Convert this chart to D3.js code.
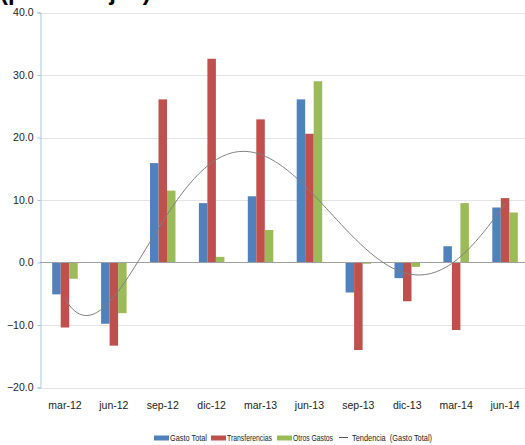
<!DOCTYPE html>
<html>
<head>
<meta charset="utf-8">
<script src="https://cdn.jsdelivr.net/npm/d3@7"></script>
<style>
  html, body { margin: 0; padding: 0; background: #fff; }
  svg { display: block; }
  .lbl { font-family: "Liberation Sans Narrow", "Liberation Sans", sans-serif; fill: #222; }
</style>
</head>
<body>
<svg id="chart" width="525" height="445"></svg>
<script>
// Quarterly variation by component
const categories = ["mar-12", "jun-12", "sep-12", "dic-12", "mar-13", "jun-13", "sep-13", "dic-13", "mar-14", "jun-14"];
const gastoTotal     = [-5.1, -9.8, 15.9, 9.5, 10.6, 26.1, -4.8, -2.5, 2.6, 8.8];
const transferencias = [-10.4, -13.3, 26.1, 32.6, 22.9, 20.6, -14.0, -6.2, -10.8, 10.3];
const otrosGastos    = [-2.6, -8.1, 11.5, 0.9, 5.2, 29.0, -0.2, -0.7, 9.5, 8.0];
const seriesNames = ["Gasto Total", "Transferencias", "Otros Gastos"];
const seriesColors = ["#4f81bd", "#c0504d", "#9bbb59"];
const yTicks = [-20, -10, 0, 10, 20, 30, 40];
const titleText = "(porcentajes)";
const trendLabel = "Tendencia  (Gasto Total)";
const trendDegree = 5;

const series = [gastoTotal, transferencias, otrosGastos];
const rows = categories.map((c, i) => ({ cat: c, values: series.map((s, k) => ({ key: seriesNames[k], k, v: s[i] })) }));

const svg = d3.select("#chart");

const x = d3.scaleBand().domain(categories).range([40.5, 529.5]);
const xInner = d3.scaleBand().domain(seriesNames).range([-12.75, 12.75]);
const y = d3.scaleLinear().domain([-20, 40]).range([387.5, 12.5]);

// title (runs above the frame)
svg.append("text").attr("x", 0).attr("y", 0)
  .style("font-family", "'Liberation Sans', sans-serif")
  .style("font-weight", "bold").style("font-size", "24px").attr("fill", "#000")
  .text(titleText);

// horizontal gridlines
svg.append("g").selectAll("line").data(yTicks.filter(t => t !== 0)).join("line")
  .attr("x1", 40).attr("x2", 525)
  .attr("y1", d => Math.round(y(d)) + 0.5).attr("y2", d => Math.round(y(d)) + 0.5)
  .attr("stroke", "#e4e4e4").attr("stroke-width", 1);

// y axis
const yAxis = svg.append("g").attr("transform", "translate(40.5,0)")
  .call(d3.axisLeft(y).tickValues(yTicks).tickFormat(d3.format(".1f")).tickSize(3).tickPadding(4));
yAxis.select(".domain").attr("stroke", "#a9c3e6");
yAxis.selectAll(".tick line").attr("stroke", "#a9c3e6");
yAxis.selectAll(".tick text").attr("class", "lbl").style("font-size", "10.5px").attr("fill", "#222");

// bars
const groups = svg.append("g").selectAll("g").data(rows).join("g")
  .attr("transform", d => `translate(${x(d.cat) + x.bandwidth() / 2},0)`);
groups.selectAll("rect").data(d => d.values).join("rect")
  .attr("x", d => xInner(d.key))
  .attr("width", xInner.bandwidth())
  .attr("y", d => y(Math.max(0, d.v)))
  .attr("height", d => Math.abs(y(d.v) - y(0)))
  .attr("fill", d => seriesColors[d.k]);

// zero line
svg.append("line").attr("x1", 40).attr("x2", 525)
  .attr("y1", y(0)).attr("y2", y(0))
  .attr("stroke", "#a0a0a0").attr("stroke-width", 1);

// polynomial least-squares trend of Gasto Total
function polyFit(xs, ys, deg) {
  const n = deg + 1;
  const A = Array.from({ length: n }, () => new Array(n + 1).fill(0));
  for (let i = 0; i < xs.length; i++) {
    for (let r = 0; r < n; r++) {
      for (let c = 0; c < n; c++) A[r][c] += Math.pow(xs[i], r + c);
      A[r][n] += ys[i] * Math.pow(xs[i], r);
    }
  }
  for (let p = 0; p < n; p++) {
    let m = p;
    for (let r = p + 1; r < n; r++) if (Math.abs(A[r][p]) > Math.abs(A[m][p])) m = r;
    [A[p], A[m]] = [A[m], A[p]];
    for (let r = 0; r < n; r++) {
      if (r === p) continue;
      const f = A[r][p] / A[p][p];
      for (let c = p; c <= n; c++) A[r][c] -= f * A[p][c];
    }
  }
  return A.map((row, i) => row[n] / row[i]);
}
const xs = categories.map((_, i) => i + 1);
const coef = polyFit(xs, gastoTotal, trendDegree);
const evalPoly = t => coef.reduce((s, c, i) => s + c * Math.pow(t, i), 0);
const trendPts = d3.range(1, categories.length + 0.001, 0.05).map(t => [t, evalPoly(t)]);
const xPos = t => x(categories[0]) + x.bandwidth() / 2 + (t - 1) * x.step();
svg.append("path").datum(trendPts)
  .attr("d", d3.line().x(d => xPos(d[0])).y(d => y(d[1])))
  .attr("fill", "none").attr("stroke", "#7f7f7f").attr("stroke-width", 1);

// x axis labels
svg.append("g").selectAll("text").data(categories).join("text")
  .attr("class", "lbl")
  .attr("x", d => x(d) + x.bandwidth() / 2).attr("y", 409)
  .attr("text-anchor", "middle").style("font-size", "10.5px")
  .text(d => d);

// legend
const legend = svg.append("g");
const legendItems = [
  { type: "rect", color: seriesColors[0], x: 154, w: 15, label: seriesNames[0], tx: 170, tw: 37 },
  { type: "rect", color: seriesColors[1], x: 211, w: 15, label: seriesNames[1], tx: 227, tw: 45 },
  { type: "rect", color: seriesColors[2], x: 277, w: 15, label: seriesNames[2], tx: 293, tw: 40 },
  { type: "line", color: "#555", x: 339, w: 9, label: trendLabel, tx: 352, tw: 80 }
];
legendItems.forEach(it => {
  if (it.type === "rect") {
    legend.append("rect").attr("x", it.x).attr("y", 435.5).attr("width", it.w).attr("height", 5).attr("fill", it.color);
  } else {
    legend.append("line").attr("x1", it.x).attr("x2", it.x + it.w).attr("y1", 437.5).attr("y2", 437.5)
      .attr("stroke", it.color).attr("stroke-width", 1);
  }
  legend.append("text").attr("class", "lbl").attr("x", it.tx).attr("y", 441)
    .style("font-size", "9.5px").style("white-space", "pre")
    .attr("textLength", it.tw).attr("lengthAdjust", "spacingAndGlyphs")
    .text(it.label);
});
</script>
</body>
</html>
